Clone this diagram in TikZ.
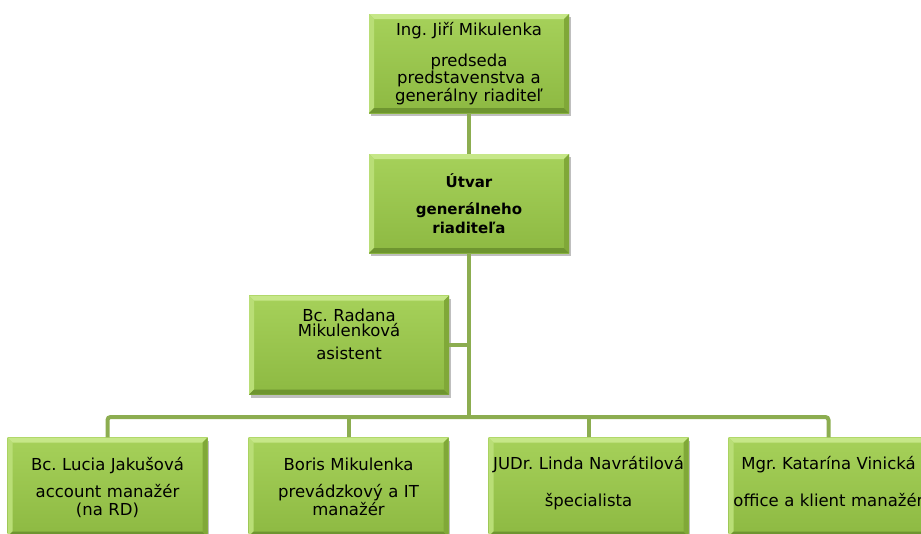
\documentclass[tikz,border=0pt]{standalone}
\usepackage{fontspec}
\setmainfont{DejaVu Sans}
\frenchspacing
\usetikzlibrary{shadows}
\definecolor{boxtop}{HTML}{A6D15A}
\definecolor{boxbot}{HTML}{8DB942}
\definecolor{bevlight}{HTML}{C6E788}
\definecolor{bevdark}{HTML}{6E9530}
\definecolor{bevright}{HTML}{80A838}
\definecolor{linkcol}{HTML}{8CAD50}

\begin{document}
\begin{tikzpicture}[x=1pt,y=-1pt,
  orgbox/.style={top color=boxtop, bottom color=boxbot,
    minimum width=200pt, minimum height=99pt, text width=198pt, align=center, inner sep=0pt,
    font=\fontsize{16.5}{18}\selectfont,
    drop shadow={shadow xshift=1.5pt,shadow yshift=-3pt,opacity=0.25,fill=black},
    path picture={
      \path (path picture bounding box.north west) coordinate (pnw)
            (path picture bounding box.north east) coordinate (pne)
            (path picture bounding box.south west) coordinate (psw)
            (path picture bounding box.south east) coordinate (pse);
      \fill[bevlight] (pnw) -- (pne) -- ([xshift=-5pt,yshift=-5pt]pne) -- ([xshift=5pt,yshift=-5pt]pnw) -- cycle;
      \fill[bevlight!60!boxtop] (pnw) -- ([xshift=5pt,yshift=-5pt]pnw) -- ([xshift=5pt,yshift=5pt]psw) -- (psw) -- cycle;
      \fill[bevdark] (psw) -- ([xshift=5pt,yshift=5pt]psw) -- ([xshift=-5pt,yshift=5pt]pse) -- (pse) -- cycle;
      \fill[bevright] (pne) -- (pse) -- ([xshift=-5pt,yshift=5pt]pse) -- ([xshift=-5pt,yshift=-5pt]pne) -- cycle;
    }},
  link/.style={draw=linkcol, line width=4pt}]
\useasboundingbox (0,0) rectangle (921,533);

\node[orgbox] (chief) at (469,63.5) {Ing. Jiří Mikulenka\\[14pt]
  {\fontsize{16.5}{15.5}\selectfont predseda\\predstavenstva a\\generálny riaditeľ}};
\node[orgbox, font=\fontsize{15}{19}\selectfont\bfseries] (office) at (469,203.5) {Útvar\\[8pt]generálneho\\riaditeľa};
\node[orgbox, font=\fontsize{16.5}{15.5}\selectfont] (asst) at (349,345) {Bc. Radana\\Mikulenková\\[7pt]asistent\\[6.5pt]\mbox{}};

\node[orgbox] (lucia) at (107.5,487) {Bc. Lucia Jakušová\\[9pt]account manažér\\(na RD)};
\node[orgbox] (boris) at (348.5,487) {Boris Mikulenka\\[9pt]prevádzkový a IT\\manažér};
\node[orgbox] (linda) at (588.5,487) {JUDr. Linda Navrátilová\\[19pt]špecialista\\[-7pt]\mbox{}};
\node[orgbox] (katka) at (828.5,487) {Mgr. Katarína Vinická\\[19pt]office a klient manažér\\[-7pt]\mbox{}};

\coordinate (bar) at (469,417);
\draw[link] (chief) -- (office);
\draw[link] (office) -- (bar);
\draw[link] (asst) -- (asst -| office);
\draw[link, rounded corners=3pt] (lucia) |- (bar) -| (katka);
\draw[link] (boris) -- (boris |- bar);
\draw[link] (linda) -- (linda |- bar);
\end{tikzpicture}
\end{document}
